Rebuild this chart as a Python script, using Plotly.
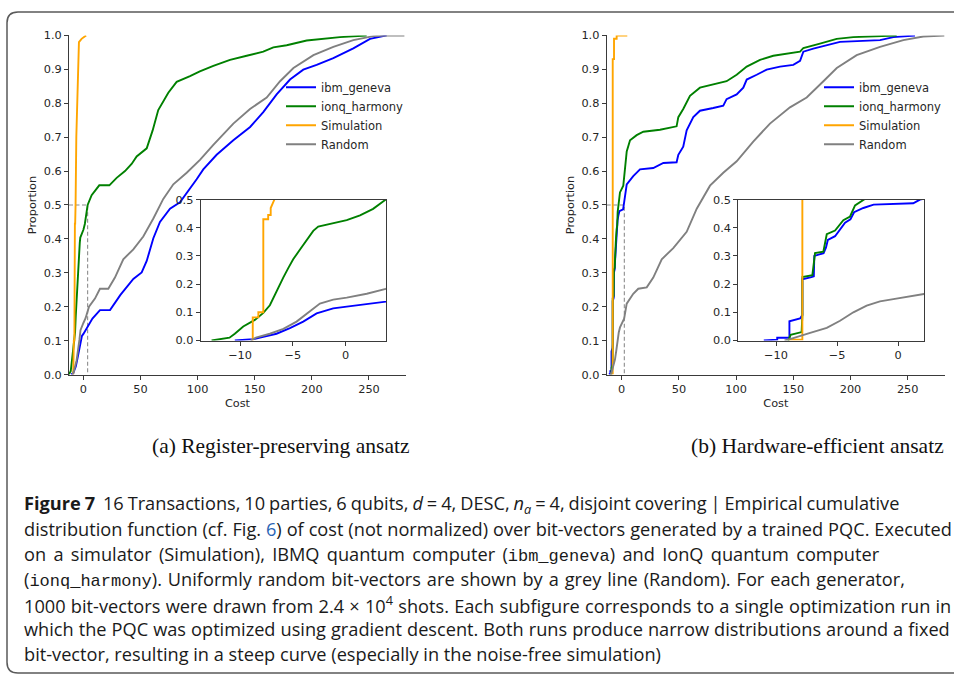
import plotly.graph_objects as go

W, H = 954, 683

# ---------------- data ----------------
series_names = ["ibm_geneva", "ionq_harmony", "Simulation", "Random"]
series_colors = ["#0000ff", "#008000", "#ffa500", "#808080"]

# (a) Register-preserving ansatz
a_ibm_x = [-10.5, -8.75, -7.8, -6.55, -5.28, -4.02, -2.75, -1.18, 0.1, 2.0, 3.8, 8.0, 14.6, 23.4, 32.5,
           43.8, 51.1, 55.5, 61.3, 67.1, 75.9, 84.6, 99.2, 105, 116.7, 131.3, 146, 157.5, 169.2, 180.9,
           192.5, 204.2, 218.8, 236.3, 250.9, 265.5]
a_ibm_y = [0.0, 0.005, 0.013, 0.024, 0.044, 0.067, 0.096, 0.114, 0.12, 0.131, 0.14, 0.165, 0.19, 0.19, 0.235,
           0.282, 0.301, 0.335, 0.402, 0.45, 0.489, 0.508, 0.576, 0.605, 0.648, 0.691, 0.73, 0.774, 0.826, 0.87,
           0.899, 0.913, 0.933, 0.962, 0.99, 1.0]
a_ionq_x = [-12.7, -11.0, -10.5, -9.7, -8.6, -7.8, -7.18, -6.6, -5.9, -5.45, -4.97, -4.34, -3.7, -3.07, -2.6,
            -1.18, 0.1, 1.36, 2.6, 3.8, 7.3, 14, 22.8, 29.2, 36.5, 42.3, 46.7, 55.5, 60.7, 65.6, 74.4, 81.7,
            93.4, 102, 113.8, 128.4, 143, 157.5, 166.3, 178, 195.5, 210, 224.6, 248]
a_ionq_y = [0.0, 0.01, 0.024, 0.05, 0.073, 0.098, 0.125, 0.172, 0.224, 0.256, 0.288, 0.322, 0.357, 0.389, 0.404,
            0.415, 0.427, 0.444, 0.467, 0.5, 0.529, 0.558, 0.558, 0.58, 0.60, 0.621, 0.643, 0.667, 0.72, 0.78,
            0.831, 0.863, 0.88, 0.894, 0.91, 0.928, 0.94, 0.952, 0.965, 0.971, 0.985, 0.99, 0.995, 1.0]
a_sim_x = [-8.8, -8.8, -8.27, -8.27, -7.8, -7.8, -7.34, -7.34, -7.1, -7.1, -6.75, -6.1, -5.5, -4.9, -4.0,
           -3.8, -1.5, 2.5]
a_sim_y = [0.0, 0.082, 0.082, 0.10, 0.10, 0.43, 0.43, 0.445, 0.445, 0.47, 0.5, 0.7, 0.8, 0.9, 0.95,
           0.98, 0.99, 1.0]
a_rand_x = [-9.0, -8.5, -7.18, -5.9, -4.65, -3.4, -2.44, -1.18, 0.1, 2.0, 3.8, 5.0, 10.2, 14.6, 21.9, 27.7,
            35, 43.8, 52.5, 61.3, 70, 78.8, 90.5, 102.1, 113.8, 131.3, 145.9, 160.5, 172.2, 183.9, 201.4,
            218.8, 236.3, 253.8, 266, 281]
a_rand_y = [0.0, 0.01, 0.024, 0.041, 0.067, 0.102, 0.131, 0.145, 0.152, 0.166, 0.183, 0.2, 0.224, 0.253, 0.253,
            0.286, 0.34, 0.369, 0.407, 0.46, 0.518, 0.561, 0.595, 0.633, 0.677, 0.74, 0.783, 0.817, 0.865,
            0.904, 0.942, 0.966, 0.986, 0.998, 1.0, 1.0]
a_median_x = 3.8

# (b) Hardware-efficient ansatz
b_ibm_x = [-11.0, -9.9, -9.9, -8.9, -8.9, -8.03, -7.84, -7.84, -7.1, -6.9, -6.86, -6.1, -5.9, -5.75, -5.16,
           -4.8, -4.34, -3.9, -3.6, -2.84, -2.0, 1.25, 1.8, 2.5, 3.5, 4.4, 10.1, 16, 27.6, 36.4, 48, 49.5,
           53.8, 56.8, 62.6, 68.4, 80, 88.8, 91.7, 100.5, 106.3, 109.3, 118, 126.7, 138.4, 150, 155.9, 158.8,
           167.5, 179.2, 190.8, 225.8, 237.5, 256.4]
b_ibm_y = [0.0, 0.003, 0.01, 0.01, 0.068, 0.078, 0.09, 0.217, 0.225, 0.228, 0.30, 0.31, 0.33, 0.357, 0.37,
           0.39, 0.418, 0.43, 0.455, 0.47, 0.482, 0.487, 0.5, 0.505, 0.54, 0.561, 0.585, 0.605, 0.609, 0.624,
           0.626, 0.648, 0.672, 0.72, 0.759, 0.778, 0.786, 0.793, 0.812, 0.826, 0.846, 0.87, 0.884, 0.899,
           0.908, 0.913, 0.925, 0.952, 0.961, 0.971, 0.981, 0.986, 0.995, 1.0]
b_ionq_x = [-9.0, -8.8, -7.9, -7.84, -7.84, -7.02, -6.8, -6.12, -5.84, -5.16, -4.48, -3.93, -3.52, -2.84,
            -1.5, 1.4, 2.9, 4.4, 7.3, 13.1, 18.9, 33.5, 48, 49.5, 53.8, 59.7, 68.4, 80, 91.7, 100.5, 109.3,
            120.9, 132.5, 155.9, 158.8, 173.3, 187.9, 202.4, 240.4]
b_ionq_y = [0.0, 0.02, 0.03, 0.09, 0.225, 0.232, 0.31, 0.315, 0.377, 0.39, 0.427, 0.44, 0.479, 0.5,
            0.537, 0.557, 0.605, 0.658, 0.691, 0.706, 0.716, 0.722, 0.732, 0.759, 0.783, 0.822, 0.846, 0.855,
            0.865, 0.884, 0.908, 0.928, 0.94, 0.952, 0.963, 0.976, 0.99, 0.995, 1.0]
b_sim_x = [-8.9, -8.9, -7.84, -7.84, -6.7, -6.7, -4.4, -4.4, 4.9]
b_sim_y = [0.0, 0.003, 0.003, 0.93, 0.93, 0.99, 0.99, 1.0, 1.0]
b_rand_x = [-9.3, -8.85, -7.2, -5.84, -4.75, -3.66, -2.57, -1.48, -0.38, 0.71, 2.13, 4.4, 10.1, 14.5, 21.9,
            27.6, 35, 45.1, 56.8, 65.6, 77.2, 88.8, 100.5, 115, 129.6, 147.1, 161.7, 176.3, 188, 205.4,
            225.8, 246.2, 263.6, 282]
b_rand_y = [0.0, 0.005, 0.027, 0.045, 0.07, 0.1, 0.124, 0.139, 0.147, 0.154, 0.165, 0.209, 0.238, 0.253,
            0.257, 0.286, 0.34, 0.373, 0.421, 0.489, 0.557, 0.595, 0.629, 0.687, 0.74, 0.788, 0.817, 0.865,
            0.904, 0.942, 0.966, 0.986, 0.997, 1.0]
b_median_x = 2.3
median_y = 0.5

main_yticks = [0.0, 0.1, 0.2, 0.3, 0.4, 0.5, 0.6, 0.7, 0.8, 0.9, 1.0]
main_xticks = [0, 50, 100, 150, 200, 250]
inset_yticks = [0.0, 0.1, 0.2, 0.3, 0.4, 0.5]
inset_xticks = [-10, -5, 0]

sub_captions = ["(a) Register-preserving ansatz", "(b) Hardware-efficient ansatz"]
MONO = "font-family:'Liberation Mono';font-size:17px"
caption_lines = [
    "<b>Figure 7</b>  16 Transactions, 10 parties, 6 qubits, <i>d</i> = 4, DESC, <i>n<sub>a</sub></i> = 4, disjoint covering | Empirical cumulative",
    "distribution function (cf. Fig. <span style='color:#2b65b5'>6</span>) of cost (not normalized) over bit-vectors generated by a trained PQC. Executed",
    f"on a simulator (Simulation), IBMQ quantum computer (<span style=\"{MONO}\">ibm_geneva</span>) and IonQ quantum computer",
    f"(<span style=\"{MONO}\">ionq_harmony</span>). Uniformly random bit-vectors are shown by a grey line (Random). For each generator,",
    "1000 bit-vectors were drawn from 2.4 × 10<sup>4</sup> shots. Each subfigure corresponds to a single optimization run in",
    "which the PQC was optimized using gradient descent. Both runs produce narrow distributions around a fixed",
    "bit-vector, resulting in a steep curve (especially in the noise-free simulation)",
]
# per-line word spacing (px) to follow the typeset line lengths
caption_word_spacing = [-0.8, 0.2, 2.6, 1.2, 0.5, 0.3, 0.0]

# ---------------- helpers ----------------
def px(x):
    return x / W

def py(y):
    return 1 - y / H

AX = "#3a3a3a"
TXT = "#262626"
TICKFONT = dict(family="DejaVu Sans", size=11.3, color=TXT)

fig = go.Figure()

panels = [
    dict(data=[(a_ibm_x, a_ibm_y), (a_ionq_x, a_ionq_y), (a_sim_x, a_sim_y), (a_rand_x, a_rand_y)],
         med=a_median_x, main=("x", "y"), inset=("x2", "y2"), legend="legend", xr=[-12.5, 282.4]),
    dict(data=[(b_ibm_x, b_ibm_y), (b_ionq_x, b_ionq_y), (b_sim_x, b_sim_y), (b_rand_x, b_rand_y)],
         med=b_median_x, main=("x3", "y3"), inset=("x4", "y4"), legend="legend2", xr=[-13.1, 282.6]),
]

for p in panels:
    # dashed median guide
    fig.add_trace(go.Scatter(x=[p["xr"][0], p["med"], p["med"]], y=[median_y, median_y, 0],
                             mode="lines", line=dict(color="#8c8c8c", width=1.1, dash="4px,2.5px"),
                             xaxis=p["main"][0], yaxis=p["main"][1], showlegend=False, hoverinfo="skip"))
    for (xs, ys), name, col in zip(p["data"], series_names, series_colors):
        fig.add_trace(go.Scatter(x=xs, y=ys, mode="lines", name=name, line=dict(color=col, width=1.9),
                                 xaxis=p["main"][0], yaxis=p["main"][1], legend=p["legend"]))
    for (xs, ys), name, col in zip(p["data"], series_names, series_colors):
        fig.add_trace(go.Scatter(x=xs, y=ys, mode="lines", name=name, line=dict(color=col, width=1.9),
                                 xaxis=p["inset"][0], yaxis=p["inset"][1], showlegend=False))

def main_axes(xdom, ydom, xr, anchor_x, anchor_y):
    xa = dict(domain=xdom, range=xr, anchor=anchor_y, tickvals=main_xticks, ticks="outside", ticklen=4,
              tickwidth=1, tickcolor=AX, showline=True, linecolor=AX, linewidth=1.1, showgrid=False,
              zeroline=False, tickfont=TICKFONT,
              title=dict(text="Cost", font=TICKFONT, standoff=3))
    ya = dict(domain=ydom, range=[0, 1], anchor=anchor_x, tickvals=main_yticks, tickformat=".1f",
              ticks="outside", ticklen=4, tickwidth=1, tickcolor=AX, showline=True, linecolor=AX,
              linewidth=1.1, showgrid=False, zeroline=False, tickfont=TICKFONT,
              title=dict(text="Proportion", font=TICKFONT, standoff=4))
    return xa, ya

def inset_axes(xdom, ydom, xr, anchor_x, anchor_y):
    xa = dict(domain=xdom, range=xr, anchor=anchor_y, tickvals=inset_xticks, ticks="outside", ticklen=4,
              tickwidth=1, tickcolor=AX, showline=True, mirror=True, linecolor=AX, linewidth=1.1,
              showgrid=False, zeroline=False, tickfont=TICKFONT)
    ya = dict(domain=ydom, range=[0, 0.5], anchor=anchor_x, tickvals=inset_yticks, tickformat=".1f",
              ticks="outside", ticklen=4, tickwidth=1, tickcolor=AX, showline=True, mirror=True,
              linecolor=AX, linewidth=1.1, showgrid=False, zeroline=False, tickfont=TICKFONT)
    return xa, ya

main_ydom = [py(375.7), py(30)]
inset_ydom = [py(341), py(197.3)]

x1, y1 = main_axes([px(69), px(406)], main_ydom, panels[0]["xr"], "x", "y")
x2, y2 = inset_axes([px(200.7), px(386)], inset_ydom, [-13.73, 3.82], "x2", "y2")
x3, y3 = main_axes([px(606.7), px(945)], main_ydom, panels[1]["xr"], "x3", "y3")
x4, y4 = inset_axes([px(738.3), px(924)], inset_ydom, [-13.09, 2.13], "x4", "y4")

legend_style = dict(xanchor="left", yanchor="top", bgcolor="rgba(0,0,0,0)", borderwidth=0,
                    font=dict(family="DejaVu Sans", size=11.5, color=TXT), tracegroupgap=0)

annotations = []
annotations.append(dict(text=sub_captions[0], x=px(280), y=py(449), xref="paper", yref="paper",
                        showarrow=False, xanchor="center", yanchor="middle",
                        font=dict(family="Liberation Serif", size=21.5, color="#111")))
annotations.append(dict(text=sub_captions[1], x=px(817.5), y=py(449), xref="paper", yref="paper",
                        showarrow=False, xanchor="center", yanchor="middle",
                        font=dict(family="Liberation Serif", size=21.5, color="#111")))
line_y = [508, 533.5, 559, 584.5, 610, 635, 660.5]
for t, yy, ws in zip(caption_lines, line_y, caption_word_spacing):
    annotations.append(dict(text=f"<span style='word-spacing:{ws}px'>{t}</span>", x=px(22), y=py(yy),
                            xref="paper", yref="paper", showarrow=False,
                            xanchor="left", yanchor="middle", align="left",
                            font=dict(family="Open Sans", size=18.2, color="#1a1a1a")))

# rounded frame around the figure
r = 11
x0, yt, yb, xr_ = 7, 6, 680, 970
frame_path = (f"M {px(xr_)},{py(yt)} L {px(x0 + r)},{py(yt)} Q {px(x0)},{py(yt)} {px(x0)},{py(yt + r)} "
              f"L {px(x0)},{py(yb - r)} Q {px(x0)},{py(yb)} {px(x0 + r)},{py(yb)} L {px(xr_)},{py(yb)}")

fig.update_layout(
    width=W, height=H, autosize=False,
    margin=dict(l=0, r=0, t=0, b=0),
    paper_bgcolor="white", plot_bgcolor="white",
    xaxis=x1, yaxis=y1, xaxis2=x2, yaxis2=y2, xaxis3=x3, yaxis3=y3, xaxis4=x4, yaxis4=y4,
    legend=dict(x=px(281), y=py(68), **legend_style),
    legend2=dict(x=px(819), y=py(68), **legend_style),
    annotations=annotations,
    shapes=[dict(type="path", path=frame_path, xref="paper", yref="paper",
                 line=dict(color="#5a5a5a", width=1.5))],
    showlegend=True,
)

fig.write_html("out.html")
